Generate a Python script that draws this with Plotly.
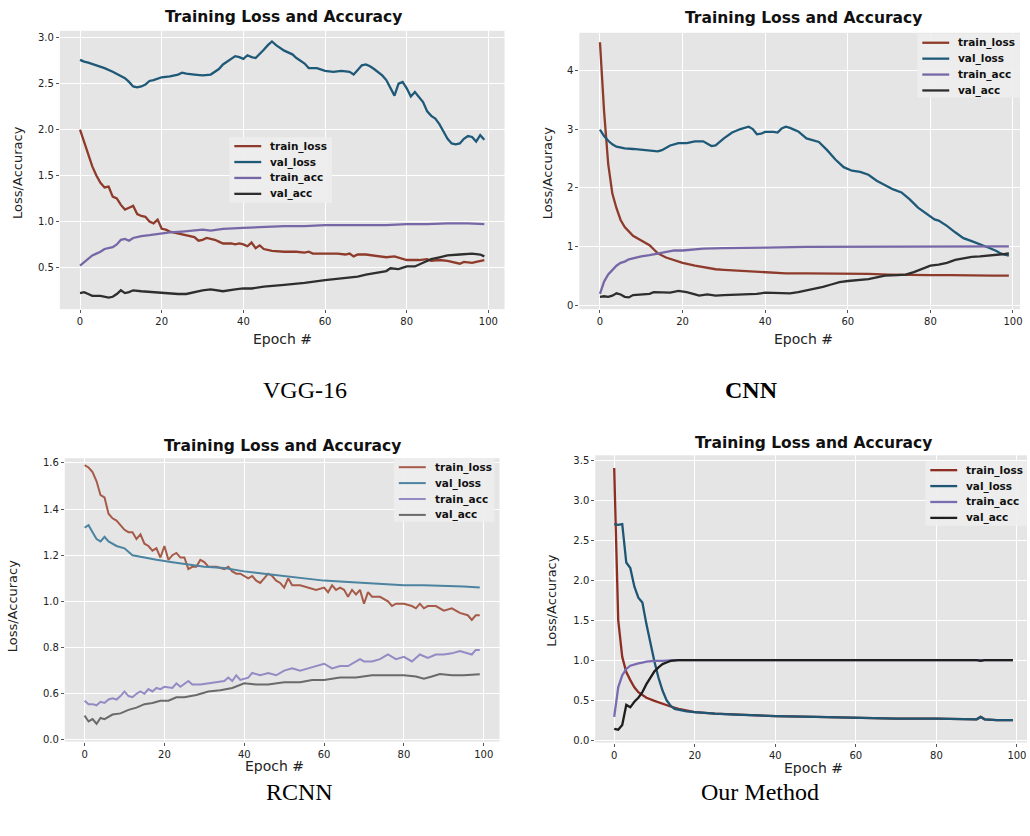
import plotly.graph_objects as go

# ---------------- data ----------------
SERIES = ["train_loss", "val_loss", "train_acc", "val_acc"]
x_ticks = [0, 20, 40, 60, 80, 100]

# VGG-16
vgg_train_loss_ep = [0,1,2,3,4,5,6,7,8,9,10,11,12,13,14,15,16,17,18,19,20,21,22,24,26,27,28,29,30,31,32,33,34,35,37,38,39,40,41,42,43,44,45,46,47,50,53,55,56,57,60,63,65,66,67,68,70,72,74,75,77,79,80,83,85,86,88,90,91,93,94,96,97,99]
vgg_train_loss = [2.00,1.86,1.72,1.60,1.50,1.42,1.37,1.38,1.27,1.25,1.18,1.13,1.15,1.17,1.08,1.06,1.05,1.00,0.98,1.02,0.92,0.91,0.89,0.87,0.85,0.84,0.83,0.79,0.80,0.82,0.81,0.80,0.78,0.76,0.76,0.75,0.76,0.75,0.73,0.77,0.71,0.74,0.70,0.69,0.68,0.67,0.67,0.66,0.67,0.65,0.65,0.65,0.64,0.65,0.62,0.64,0.64,0.63,0.62,0.61,0.62,0.59,0.58,0.58,0.59,0.57,0.58,0.57,0.56,0.54,0.56,0.55,0.56,0.58]
vgg_val_loss_ep = [0,1,2,4,6,8,10,11,12,13,14,15,16,17,18,20,22,24,25,26,28,30,32,34,35,37,38,39,40,41,42,43,44,45,46,47,48,50,52,53,55,56,58,60,62,64,66,67,68,69,70,71,72,74,75,76,77,78,79,80,81,82,83,84,85,86,87,88,89,90,91,92,93,94,95,96,97,98,99]
vgg_val_loss = [2.76,2.74,2.73,2.70,2.67,2.63,2.58,2.56,2.52,2.47,2.46,2.47,2.49,2.53,2.54,2.57,2.58,2.60,2.62,2.61,2.60,2.59,2.60,2.66,2.71,2.77,2.80,2.79,2.77,2.81,2.79,2.78,2.82,2.87,2.92,2.96,2.92,2.86,2.82,2.78,2.72,2.67,2.67,2.64,2.63,2.64,2.63,2.60,2.65,2.70,2.71,2.69,2.66,2.59,2.54,2.46,2.37,2.50,2.52,2.45,2.36,2.41,2.36,2.30,2.20,2.15,2.12,2.06,1.98,1.90,1.85,1.84,1.85,1.90,1.93,1.92,1.87,1.94,1.89]
vgg_train_acc_ep = [0,1,2,3,4,5,6,7,8,9,10,11,12,13,15,17,20,22,25,28,30,32,35,40,45,50,55,60,65,70,75,80,85,90,95,99]
vgg_train_acc = [0.52,0.56,0.60,0.63,0.65,0.67,0.70,0.71,0.72,0.75,0.80,0.81,0.79,0.82,0.84,0.85,0.87,0.88,0.89,0.90,0.91,0.90,0.92,0.93,0.94,0.95,0.95,0.96,0.96,0.96,0.96,0.97,0.97,0.98,0.98,0.97]
vgg_val_acc_ep = [0,1,2,3,5,6,7,8,9,10,11,12,13,15,18,20,24,26,28,30,32,35,38,40,42,45,50,55,60,65,68,70,73,75,76,78,80,82,84,86,88,90,93,96,98,99]
vgg_val_acc = [0.22,0.23,0.21,0.19,0.19,0.18,0.17,0.18,0.21,0.25,0.22,0.23,0.25,0.24,0.23,0.22,0.21,0.21,0.23,0.25,0.26,0.24,0.26,0.27,0.27,0.29,0.31,0.33,0.36,0.38,0.40,0.42,0.44,0.46,0.49,0.48,0.51,0.51,0.55,0.59,0.61,0.63,0.64,0.65,0.64,0.62]

# CNN
cnn_train_loss_ep = [0,1,2,3,4,5,6,7,8,10,12,13,14,16,18,20,23,26,28,30,35,40,45,50,55,60,65,70,75,80,85,90,95,99]
cnn_train_loss = [4.48,3.30,2.40,1.90,1.65,1.45,1.33,1.25,1.18,1.10,1.02,0.95,0.88,0.81,0.76,0.72,0.67,0.63,0.61,0.60,0.58,0.57,0.54,0.54,0.54,0.53,0.53,0.52,0.51,0.51,0.51,0.50,0.50,0.50]
cnn_val_loss_ep = [0,1,2,3,4,6,8,10,12,14,15,17,19,21,23,25,27,28,30,32,34,36,37,38,39,40,42,43,44,45,46,48,50,52,53,55,57,59,61,63,65,67,69,71,73,75,77,79,81,82,84,86,88,90,92,94,96,97,98,99]
cnn_val_loss = [2.99,2.88,2.80,2.74,2.70,2.67,2.66,2.65,2.63,2.62,2.64,2.72,2.76,2.76,2.79,2.79,2.71,2.72,2.84,2.94,3.00,3.04,3.00,2.91,2.92,2.95,2.95,2.94,3.01,3.04,3.02,2.96,2.84,2.80,2.78,2.64,2.48,2.35,2.29,2.27,2.22,2.12,2.04,1.97,1.92,1.80,1.66,1.56,1.46,1.44,1.35,1.24,1.14,1.09,1.04,0.98,0.92,0.88,0.86,0.84]
cnn_train_acc_ep = [0,1,2,3,4,5,6,7,8,10,12,14,16,18,20,25,30,35,40,50,60,70,80,90,99]
cnn_train_acc = [0.19,0.40,0.52,0.60,0.67,0.72,0.74,0.78,0.80,0.83,0.85,0.88,0.91,0.93,0.93,0.96,0.97,0.98,0.98,0.99,0.99,1.00,1.00,1.00,1.00]
cnn_val_acc_ep = [0,1,2,3,4,5,6,7,8,10,12,13,15,17,19,21,23,24,26,28,30,33,36,38,40,43,46,48,50,52,54,56,58,60,62,65,67,69,72,74,76,78,80,82,84,86,88,90,92,94,96,98,99]
cnn_val_acc = [0.14,0.15,0.14,0.16,0.20,0.18,0.14,0.13,0.17,0.18,0.19,0.22,0.21,0.21,0.24,0.22,0.18,0.16,0.18,0.16,0.17,0.18,0.18,0.19,0.21,0.20,0.20,0.22,0.25,0.27,0.31,0.35,0.39,0.41,0.42,0.44,0.47,0.50,0.51,0.52,0.56,0.62,0.67,0.69,0.72,0.77,0.80,0.82,0.83,0.84,0.86,0.87,0.88]

# RCNN
rcnn_train_loss_ep = [0,1,2,3,4,5,6,7,8,9,10,11,12,13,14,15,16,17,18,19,20,21,22,23,24,25,26,27,28,29,30,31,33,35,36,37,38,39,40,41,42,43,44,45,46,47,48,49,50,51,52,54,56,58,60,61,62,63,64,65,66,67,68,69,70,71,72,74,76,77,78,80,82,83,84,85,86,88,90,92,94,96,97,98,99]
rcnn_train_loss = [1.59,1.58,1.56,1.52,1.46,1.45,1.38,1.36,1.35,1.33,1.31,1.30,1.30,1.27,1.29,1.25,1.24,1.22,1.23,1.19,1.24,1.18,1.20,1.21,1.19,1.19,1.14,1.15,1.15,1.18,1.17,1.15,1.15,1.14,1.15,1.13,1.12,1.12,1.11,1.10,1.11,1.09,1.08,1.10,1.12,1.11,1.09,1.08,1.06,1.10,1.07,1.07,1.06,1.05,1.06,1.04,1.07,1.05,1.06,1.05,1.02,1.05,1.03,1.05,0.99,1.04,1.02,1.02,1.00,0.98,0.99,0.99,0.98,0.97,0.99,0.97,0.98,0.98,0.96,0.97,0.95,0.94,0.92,0.94,0.94]
rcnn_val_loss_ep = [0,1,2,3,4,5,6,8,10,12,15,18,22,26,30,35,40,45,50,55,60,65,70,75,80,85,90,95,99]
rcnn_val_loss = [1.32,1.33,1.30,1.27,1.26,1.28,1.26,1.24,1.23,1.20,1.19,1.18,1.17,1.16,1.15,1.145,1.13,1.12,1.11,1.10,1.09,1.085,1.08,1.075,1.07,1.07,1.068,1.065,1.06]
rcnn_train_acc_ep = [0,1,2,3,4,5,6,7,8,9,10,11,12,13,14,15,16,17,18,19,20,22,23,24,26,27,29,31,33,35,36,37,38,39,41,42,44,46,48,50,52,54,56,58,60,62,64,66,68,69,70,72,74,76,78,80,82,84,86,88,90,92,94,96,97,98,99]
rcnn_train_acc = [0.57,0.555,0.555,0.55,0.565,0.56,0.575,0.58,0.575,0.59,0.61,0.59,0.585,0.60,0.61,0.60,0.62,0.61,0.625,0.62,0.63,0.625,0.645,0.63,0.655,0.64,0.64,0.645,0.65,0.655,0.67,0.655,0.68,0.66,0.67,0.69,0.68,0.69,0.68,0.70,0.71,0.70,0.71,0.72,0.73,0.71,0.72,0.72,0.74,0.75,0.74,0.74,0.75,0.77,0.75,0.76,0.74,0.77,0.755,0.77,0.77,0.775,0.785,0.775,0.77,0.79,0.79]
rcnn_val_acc_ep = [0,1,2,3,4,5,7,9,11,13,15,17,19,21,23,25,28,31,34,37,40,43,46,50,54,57,60,64,68,72,76,80,83,85,87,89,92,95,99]
rcnn_val_acc = [0.505,0.48,0.49,0.47,0.495,0.49,0.51,0.515,0.53,0.54,0.555,0.56,0.57,0.57,0.585,0.585,0.595,0.61,0.615,0.625,0.645,0.64,0.64,0.65,0.65,0.66,0.66,0.67,0.67,0.68,0.68,0.68,0.675,0.665,0.675,0.685,0.68,0.68,0.685]

# Our Method
our_train_loss_ep = [0,1,2,3,4,5,6,8,10,12,14,16,18,20,25,30,40,50,60,70,80,90,91,92,95,99]
our_train_loss = [3.40,1.50,1.04,0.85,0.75,0.66,0.60,0.53,0.49,0.45,0.42,0.39,0.37,0.35,0.33,0.32,0.30,0.29,0.28,0.27,0.27,0.26,0.29,0.26,0.25,0.25]
our_val_loss_ep = [0,1,2,3,4,5,6,7,8,9,10,11,12,13,14,15,16,18,20,25,30,40,50,60,70,80,90,91,92,95,99]
our_val_loss = [2.70,2.69,2.70,2.22,2.15,1.92,1.78,1.72,1.45,1.20,0.98,0.78,0.62,0.50,0.43,0.39,0.38,0.36,0.35,0.33,0.32,0.30,0.29,0.28,0.27,0.27,0.26,0.29,0.26,0.25,0.25]
our_train_acc_ep = [0,1,2,3,4,5,6,7,8,10,12,15,20,40,60,80,99]
our_train_acc = [0.29,0.66,0.81,0.89,0.93,0.95,0.96,0.97,0.98,0.99,0.99,1.00,1.00,1.00,1.00,1.00,1.00]
our_val_acc_ep = [0,1,2,3,4,5,6,7,8,9,10,11,12,13,14,16,20,40,60,80,90,91,92,99]
our_val_acc = [0.14,0.13,0.19,0.44,0.41,0.48,0.53,0.60,0.70,0.78,0.86,0.91,0.95,0.97,0.99,1.00,1.00,1.00,1.00,1.00,1.00,0.99,1.00,1.00]

# y tick values and labels per panel
vgg_yticks = [0.5, 1.0, 1.5, 2.0, 2.5, 3.0]
vgg_yticktext = ["0.5", "1.0", "1.5", "2.0", "2.5", "3.0"]
cnn_yticks = [0, 1, 2, 3, 4]
cnn_yticktext = ["0", "1", "2", "3", "4"]
rcnn_yticks = [0.4, 0.6, 0.8, 1.0, 1.2, 1.4, 1.6]
rcnn_yticktext = ["0.0", "0.6", "0.8", "1.0", "1.2", "1.4", "1.6"]
our_yticks = [0.0, 0.5, 1.0, 1.5, 2.0, 2.5, 3.0, 3.5]
our_yticktext = ["0.0", "0.5", "1.0", "1.5", "2.0", "2.5", "3.0", "3.5"]

captions = ["VGG-16", "CNN", "RCNN", "Our Method"]
title_text = "Training Loss and Accuracy"
x_title = "Epoch #"
y_title = "Loss/Accuracy"

# ---------------- styling / layout ----------------
W, H = 1030, 836
DARK = ["#8E3B2B", "#1F5978", "#7767A6", "#2E2E2E"]
LIGHT = ["#A65A48", "#4C83A0", "#948AC4", "#6A6A6A"]
FONT = "DejaVu Sans"


def px_x(p):
    return p / W


def px_y(p):
    return 1 - p / H


panels = [
    dict(data=[(vgg_train_loss_ep, vgg_train_loss), (vgg_val_loss_ep, vgg_val_loss),
               (vgg_train_acc_ep, vgg_train_acc), (vgg_val_acc_ep, vgg_val_acc)],
         colors=DARK, width=2.3, xpx=(60, 506), ypx=(30, 310), xr=[-4.95, 103.95], yr=[0.045, 3.076],
         yt=vgg_yticks, ytt=vgg_yticktext, leg=(230, 137, 333, 203), title=(284, 16), xt=(283, 340),
         yt_pos=(18, 172), cap=(306, 391, False)),
    dict(data=[(cnn_train_loss_ep, cnn_train_loss), (cnn_val_loss_ep, cnn_val_loss),
               (cnn_train_acc_ep, cnn_train_acc), (cnn_val_acc_ep, cnn_val_acc)],
         colors=DARK, width=2.3, xpx=(581, 1023), ypx=(32, 310), xr=[-5.0, 101.7], yr=[-0.07, 4.64],
         yt=cnn_yticks, ytt=cnn_yticktext, leg=(920, 33, 1023, 97), title=(806, 17), xt=(806, 340),
         yt_pos=(550, 173), cap=(754, 391, True)),
    dict(data=[(rcnn_train_loss_ep, rcnn_train_loss), (rcnn_val_loss_ep, rcnn_val_loss),
               (rcnn_train_acc_ep, rcnn_train_acc), (rcnn_val_acc_ep, rcnn_val_acc)],
         colors=LIGHT, width=2.0, xpx=(65, 501), ypx=(460, 745), xr=[-4.95, 103.95], yr=[0.393, 1.62],
         yt=rcnn_yticks, ytt=rcnn_yticktext, leg=(395, 460, 496, 524), title=(283, 448), xt=(275, 770),
         yt_pos=(12, 608), cap=(300, 796, False)),
    dict(data=[(our_train_loss_ep, our_train_loss), (our_val_loss_ep, our_val_loss),
               (our_train_acc_ep, our_train_acc), (our_val_acc_ep, our_val_acc)],
         colors=["#8E2E22", "#1E5673", "#7A6CB0", "#1E1E1E"], width=2.3, xpx=(597, 1030), ypx=(457, 746),
         xr=[-4.7, 102.5], yr=[-0.03, 3.56],
         yt=our_yticks, ytt=our_yticktext, leg=(928, 463, 1030, 528), title=(816, 445), xt=(816, 772),
         yt_pos=(553, 603), cap=(762, 796, False)),
]

fig = go.Figure()
layout = dict(width=W, height=H, margin=dict(l=0, r=0, t=0, b=0),
              paper_bgcolor="white", plot_bgcolor="#E5E5E5", showlegend=False)
annotations = []
shapes = []

for i, p in enumerate(panels):
    n = "" if i == 0 else str(i + 1)
    for k, (ep, vals) in enumerate(p["data"]):
        fig.add_trace(go.Scatter(x=ep, y=vals, mode="lines", name=SERIES[k],
                                 line=dict(color=p["colors"][k], width=p["width"]),
                                 xaxis="x" + n, yaxis="y" + n))
    common = dict(showgrid=True, gridcolor="white", gridwidth=1.3, zeroline=False,
                  ticks="outside", ticklen=3, tickcolor="#555555", showline=False,
                  tickfont=dict(family=FONT, size=10, color="#222222"))
    layout["xaxis" + n] = dict(domain=[px_x(p["xpx"][0]), px_x(p["xpx"][1])], range=p["xr"],
                               anchor="y" + n, tickvals=x_ticks, **common)
    layout["yaxis" + n] = dict(domain=[px_y(p["ypx"][1]), px_y(p["ypx"][0])], range=p["yr"],
                               anchor="x" + n, tickvals=p["yt"], ticktext=p["ytt"], **common)

    # legend box (drawn like the matplotlib one)
    lx0, ly0, lx1, ly1 = p["leg"]
    shapes.append(dict(type="rect", xref="paper", yref="paper", x0=px_x(lx0), x1=px_x(lx1),
                       y0=px_y(ly1), y1=px_y(ly0), fillcolor="rgba(238,238,238,0.92)",
                       line=dict(width=0), layer="above"))
    for k in range(4):
        yy = ly0 + 9 + 16 * k
        shapes.append(dict(type="line", xref="paper", yref="paper", x0=px_x(lx0 + 5), x1=px_x(lx0 + 32),
                           y0=px_y(yy), y1=px_y(yy), line=dict(color=p["colors"][k], width=p["width"]),
                           layer="above"))
        annotations.append(dict(text="<b>" + SERIES[k] + "</b>", x=px_x(lx0 + 39), y=px_y(yy), xref="paper",
                                yref="paper", showarrow=False, xanchor="left", yanchor="middle",
                                font=dict(family=FONT, size=10.5, color="#111111")))

    annotations.append(dict(text="<b>" + title_text + "</b>", x=px_x(p["title"][0]), y=px_y(p["title"][1]),
                            xref="paper", yref="paper", showarrow=False, xanchor="center", yanchor="middle",
                            font=dict(family=FONT, size=15.5, color="#111111")))
    annotations.append(dict(text=x_title, x=px_x(p["xt"][0]), y=px_y(p["xt"][1]), xref="paper", yref="paper",
                            showarrow=False, xanchor="center", yanchor="middle",
                            font=dict(family=FONT, size=14, color="#222222")))
    annotations.append(dict(text=y_title, x=px_x(p["yt_pos"][0]), y=px_y(p["yt_pos"][1]), xref="paper",
                            yref="paper", showarrow=False, xanchor="center", yanchor="middle", textangle=-90,
                            font=dict(family=FONT, size=13, color="#222222")))
    cx, cy, bold = p["cap"]
    annotations.append(dict(text=("<b>%s</b>" % captions[i]) if bold else captions[i], x=px_x(cx), y=px_y(cy),
                            xref="paper", yref="paper", showarrow=False, xanchor="center", yanchor="middle",
                            font=dict(family="Liberation Serif", size=24, color="black")))

layout["annotations"] = annotations
layout["shapes"] = shapes
fig.update_layout(**layout)
fig.write_html("out.html")
